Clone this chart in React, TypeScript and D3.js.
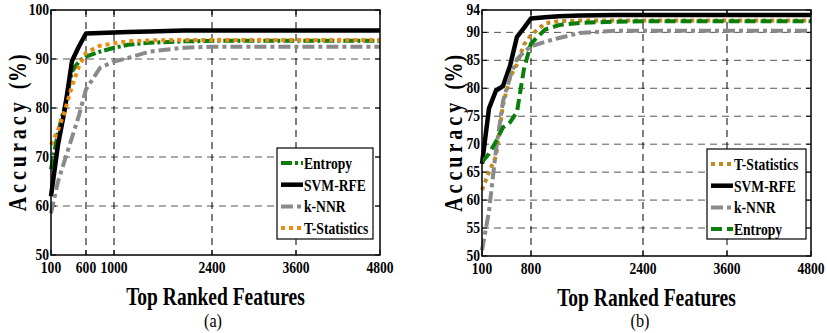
import React from "react";
import * as d3 from "d3";

// ---- data: panel (a)
const featA = [100, 200, 300, 400, 500, 600, 800, 1000, 1200, 1500, 2000, 2400, 3000, 3600, 4200, 4800];
const svmA = [62, 72.5, 80, 89.6, 92.6, 95.2, 95.3, 95.4, 95.5, 95.6, 95.8, 95.8, 95.8, 95.8, 95.8, 95.8];
const entropyA = [67.5, 75, 80.5, 87.5, 89.5, 90.5, 91.5, 92.3, 92.9, 93.3, 93.6, 93.7, 93.7, 93.7, 93.7, 93.7];
const tstatA = [72.5, 75.5, 79.5, 84.5, 88.5, 91.3, 92.7, 93.2, 93.6, 93.8, 93.9, 93.9, 93.9, 93.9, 93.9, 93.9];
const knnA = [58.5, 65, 69.5, 74, 78.5, 83.8, 88.2, 89.5, 90.2, 91.5, 92.3, 92.5, 92.5, 92.5, 92.5, 92.5];
const xTicksA = [100, 600, 1000, 2400, 3600, 4800];
const yTicksA = [50, 60, 70, 80, 90, 100];

// ---- data: panel (b)
const featB = [100, 200, 300, 400, 500, 600, 700, 800, 1000, 1200, 1500, 2000, 2400, 3000, 3600, 4200, 4800];
const svmB = [66.5, 76.4, 79.6, 80.4, 84, 89.2, 90.8, 92.5, 92.7, 92.9, 93, 93.1, 93.1, 93.1, 93.1, 93.1, 93.1];
const entropyB = [66.8, 68.3, 70.5, 73, 73.9, 75.8, 83.5, 88, 90.5, 91.3, 91.7, 91.9, 92, 92, 92, 92, 92];
const tstatB = [61.8, 65, 67.8, 77, 82, 84.3, 87.8, 89.5, 91.6, 92, 92.1, 92.1, 92.1, 92.1, 92.1, 92.1, 92.1];
const knnB = [51, 58, 69, 77.7, 82, 85.2, 86.5, 87.5, 88.3, 89, 89.9, 90.3, 90.3, 90.3, 90.3, 90.3, 90.3];
const xTicksB = [100, 800, 2400, 3600, 4800];
const yTicksB = [50, 55, 60, 65, 70, 75, 80, 85, 90, 94];

const FONT = "'Liberation Serif', 'Times New Roman', serif";

type Series = { name: string; values: number[]; color: string; dash: string; width: number };

function Label(props: { x: number; y: number; size: number; sx?: number; anchor?: string; bold?: boolean; children: React.ReactNode; rotate?: number; spacing?: number }) {
  const { x, y, size, sx = 0.8, anchor = "middle", bold = true, rotate = 0, spacing = 0 } = props;
  return (
    <text
      transform={`translate(${x},${y}) rotate(${rotate}) scale(${sx},1)`}
      textAnchor={anchor}
      fontFamily={FONT}
      fontWeight={bold ? "bold" : "normal"}
      fontSize={size}
      letterSpacing={spacing}
      fill="#000"
    >
      {props.children}
    </text>
  );
}

function Panel(props: {
  left: number; right: number; top: number; bottom: number;
  feats: number[]; series: Series[]; legendOrder: string[];
  xTicks: number[]; yTicks: number[]; yMin: number; yMax: number;
  legend: { x: number; y: number; w: number; h: number };
  ylabelX: number; caption: string; captionX: number;
}) {
  const { left, right, top, bottom, feats, series, xTicks, yTicks, legend } = props;
  const x = d3.scaleLinear().domain([100, 4800]).range([left, right]);
  const y = d3.scaleLinear().domain([props.yMin, props.yMax]).range([bottom, top]);
  const line = d3.line<number>().x((_, i) => x(feats[i])).y((d) => y(d));
  const inner = (v: number, arr: number[]) => v !== arr[0] && v !== arr[arr.length - 1];
  const midX = (left + right) / 2;

  return (
    <g>
      {/* grid */}
      {yTicks.filter((t) => inner(t, yTicks)).map((t) => (
        <line key={"gy" + t} x1={left} x2={right} y1={y(t)} y2={y(t)} stroke="#555" strokeWidth={1} strokeDasharray="7,5" />
      ))}
      {xTicks.filter((t) => inner(t, xTicks)).map((t) => (
        <line key={"gx" + t} x1={x(t)} x2={x(t)} y1={top} y2={bottom} stroke="#000" strokeWidth={1} strokeDasharray="7,5" />
      ))}
      {/* ticks */}
      {yTicks.map((t) => (
        <g key={"ty" + t}>
          <line x1={left} x2={left + 5} y1={y(t)} y2={y(t)} stroke="#000" />
          <line x1={right} x2={right - 5} y1={y(t)} y2={y(t)} stroke="#000" />
          <Label x={left - 2} y={y(t) + 5} size={17} anchor="end">{t}</Label>
        </g>
      ))}
      {xTicks.map((t) => (
        <g key={"tx" + t}>
          <line x1={x(t)} x2={x(t)} y1={bottom} y2={bottom - 5} stroke="#000" />
          <line x1={x(t)} x2={x(t)} y1={top} y2={top + 5} stroke="#000" />
          <Label x={x(t)} y={bottom + 18} size={17}>{t}</Label>
        </g>
      ))}
      {/* series */}
      {series.map((s) => (
        <path key={s.name} d={line(s.values) || ""} fill="none" stroke={s.color} strokeWidth={s.width} strokeDasharray={s.dash} strokeLinejoin="round" />
      ))}
      <rect x={left} y={top} width={right - left} height={bottom - top} fill="none" stroke="#000" strokeWidth={1.5} />
      {/* legend */}
      <rect x={legend.x} y={legend.y} width={legend.w} height={legend.h} fill="#fff" stroke="#000" strokeWidth={1.2} />
      {props.legendOrder.map((name, i) => {
        const s = series.find((d) => d.name === name)!;
        const ly = legend.y + 15 + i * 21.7;
        return (
          <g key={"lg" + name}>
            <line x1={legend.x + 4} x2={legend.x + 26} y1={ly} y2={ly} stroke={s.color} strokeWidth={s.width} strokeDasharray={s.dash} />
            <Label x={legend.x + 27} y={ly + 6} size={17} anchor="start">{name}</Label>
          </g>
        );
      })}
      {/* axis labels */}
      <Label x={midX} y={bottom + 50} size={26} sx={0.75}>Top Ranked Features</Label>
      <Label x={props.ylabelX} y={(top + bottom) / 2} size={25} sx={0.8} rotate={-90} spacing={5}>
        Accuracy <tspan letterSpacing={1}>(%)</tspan>
      </Label>
      <Label x={props.captionX} y={327} size={18} sx={0.9} bold={false}>{props.caption}</Label>
    </g>
  );
}

export default function App() {
  const seriesA: Series[] = [
    { name: "Entropy", values: entropyA, color: "#0a7d0a", dash: "11,3,3,3", width: 4 },
    { name: "SVM-RFE", values: svmA, color: "#000000", dash: "", width: 4.5 },
    { name: "k-NNR", values: knnA, color: "#8a8a8a", dash: "12,4,4,4", width: 4 },
    { name: "T-Statistics", values: tstatA, color: "#ee8a10", dash: "4,4", width: 4 },
  ];
  const seriesB: Series[] = [
    { name: "T-Statistics", values: tstatB, color: "#c08a20", dash: "4,4", width: 4 },
    { name: "SVM-RFE", values: svmB, color: "#000000", dash: "", width: 4.5 },
    { name: "k-NNR", values: knnB, color: "#8a8a8a", dash: "12,4,4,4", width: 4 },
    { name: "Entropy", values: entropyB, color: "#0a7d0a", dash: "11,5", width: 4 },
  ];
  return (
    <div style={{ position: "absolute", left: 0, top: 0 }}>
      <svg width={827} height={333} style={{ display: "block", background: "#fff" }}>
        <Panel
          left={51} right={380} top={10} bottom={255}
          feats={featA} series={seriesA} legendOrder={["Entropy", "SVM-RFE", "k-NNR", "T-Statistics"]}
          xTicks={xTicksA} yTicks={yTicksA} yMin={50} yMax={100}
          legend={{ x: 277, y: 148, w: 96, h: 91 }}
          ylabelX={26} caption="(a)" captionX={213}
        />
        <Panel
          left={482} right={811} top={10} bottom={256}
          feats={featB} series={seriesB} legendOrder={["T-Statistics", "SVM-RFE", "k-NNR", "Entropy"]}
          xTicks={xTicksB} yTicks={yTicksB} yMin={50} yMax={94}
          legend={{ x: 707, y: 149, w: 99, h: 90 }}
          ylabelX={462} caption="(b)" captionX={640}
        />
      </svg>
    </div>
  );
}
